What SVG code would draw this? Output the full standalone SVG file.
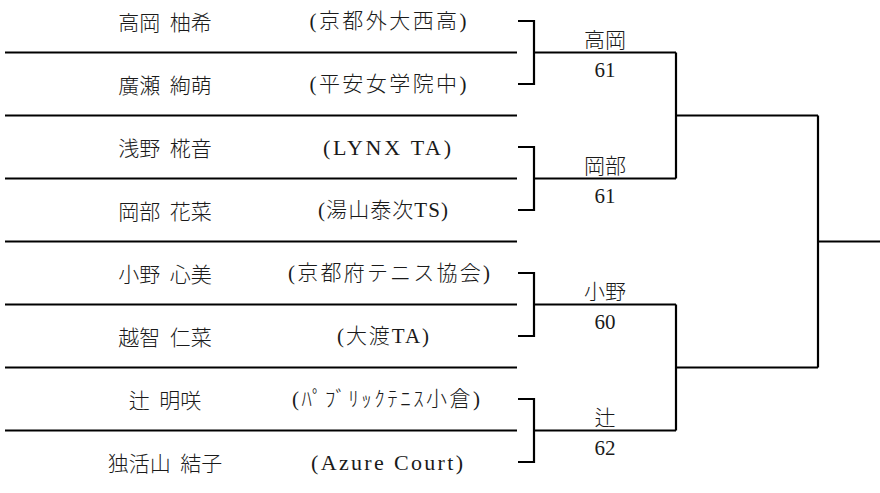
<svg xmlns="http://www.w3.org/2000/svg" width="880" height="493" viewBox="0 0 880 493">
<style>
  .bg { fill: #ffffff; }
  .name { font-family: "Noto Sans CJK JP", sans-serif; font-size: 21px; font-weight: 300; fill: #1a1a1a; text-anchor: middle; dominant-baseline: central; word-spacing: 5px; }
  .club { font-family: "Liberation Serif", "Noto Sans CJK JP", serif; font-size: 21px; font-weight: 300; fill: #1a1a1a; text-anchor: middle; dominant-baseline: central; }
  .lat { font-size: 22px; }
  .win { font-family: "Liberation Serif", "Noto Sans CJK JP", serif; font-size: 21px; font-weight: 300; fill: #1a1a1a; text-anchor: middle; dominant-baseline: central; }
  .ln { stroke: #000; stroke-width: 2.2; fill: none; stroke-linecap: butt; stroke-linejoin: miter; }
</style>
<rect class="bg" x="0" y="0" width="880" height="493"/>

<g id="connectors">
  <path class="ln" d="M5 52.5H517 M5 115.5H517 M5 178.5H517 M5 241.5H517 M5 304.5H517 M5 367.5H517 M5 430.5H517"/>
  <path class="ln" d="M518 21H534V84H518 M534 52.5H676"/>
  <path class="ln" d="M518 147H534V210H518 M534 178.5H676"/>
  <path class="ln" d="M518 273H534V336H518 M534 304.5H676"/>
  <path class="ln" d="M518 399H534V462H518 M534 430.5H676"/>
  <path class="ln" d="M676 52.5V178.5 M676 115.5H818"/>
  <path class="ln" d="M676 304.5V430.5 M676 367.5H818"/>
  <path class="ln" d="M818 115.5V367.5 M818 241.5H880"/>
</g>

<g id="p1"><text class="name" x="165" y="21">高岡 柚希</text><text class="club" x="388" y="21" textLength="157" lengthAdjust="spacing">(京都外大西高)</text></g>
<g id="p2"><text class="name" x="165" y="84">廣瀬 絢萌</text><text class="club" x="388" y="84" textLength="157" lengthAdjust="spacing">(平安女学院中)</text></g>
<g id="p3"><text class="name" x="165" y="147">浅野 椛音</text><text class="club lat" x="387" y="147" textLength="128" lengthAdjust="spacing">(LYNX TA)</text></g>
<g id="p4"><text class="name" x="165" y="210">岡部 花菜</text><text class="club" x="383" y="210" textLength="130" lengthAdjust="spacing">(湯山泰次TS)</text></g>
<g id="p5"><text class="name" x="165" y="273">小野 心美</text><text class="club" x="389" y="273" textLength="202" lengthAdjust="spacing">(京都府テニス協会)</text></g>
<g id="p6"><text class="name" x="165" y="336">越智 仁菜</text><text class="club" x="383" y="336" textLength="92" lengthAdjust="spacing">(大渡TA)</text></g>
<g id="p7"><text class="name" x="165" y="399">辻 明咲</text><text class="club" x="386" y="399" textLength="188" lengthAdjust="spacing">(ﾊﾟﾌﾞﾘｯｸﾃﾆｽ小倉)</text></g>
<g id="p8"><text class="name" x="165" y="462">独活山 結子</text><text class="club lat" x="387" y="462" textLength="152" lengthAdjust="spacing">(Azure Court)</text></g>

<g id="r1"><text class="win" x="605" y="39.5">高岡</text><text class="win" x="605" y="70">61</text></g>
<g id="r2"><text class="win" x="605" y="165.5">岡部</text><text class="win" x="605" y="196">61</text></g>
<g id="r3"><text class="win" x="605" y="291.5">小野</text><text class="win" x="605" y="322">60</text></g>
<g id="r4"><text class="win" x="605" y="417.5">辻</text><text class="win" x="605" y="448">62</text></g>
</svg>
